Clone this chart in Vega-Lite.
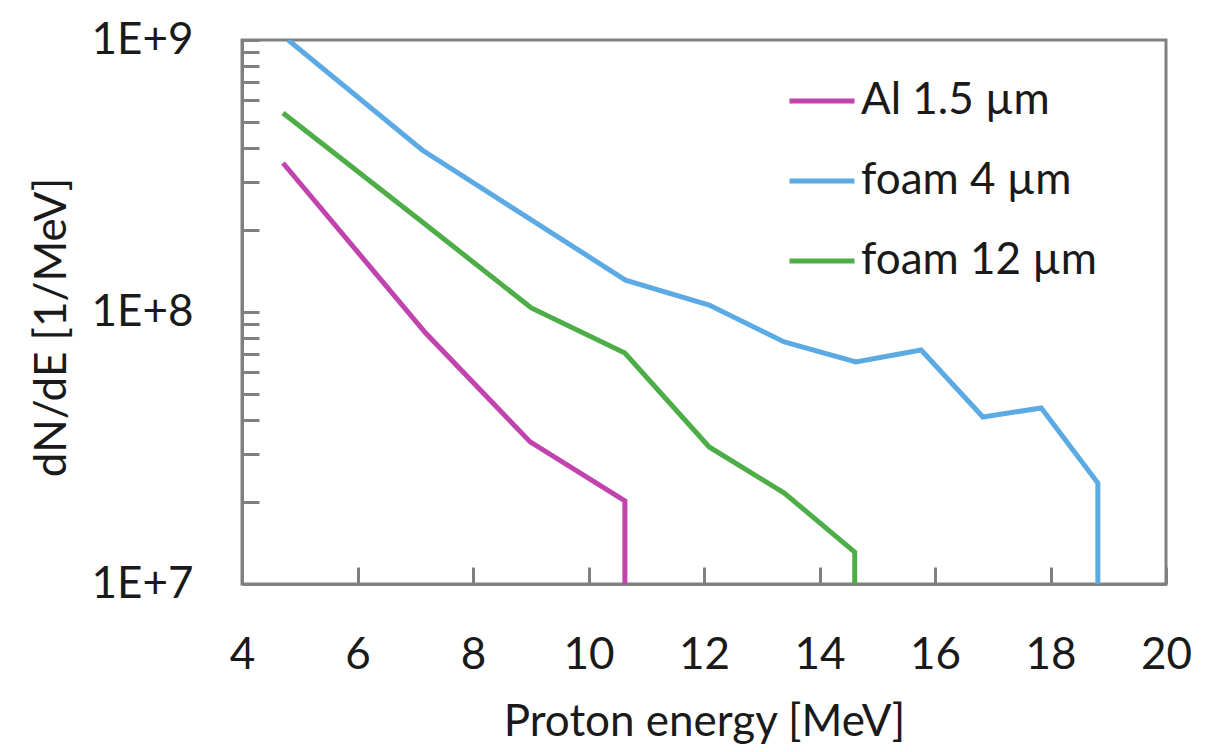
{
  "$schema": "https://vega.github.io/schema/vega-lite/v6.json",
  "width": 924,
  "height": 544,
  "autosize": {"type": "none"},
  "padding": {"left": 242, "top": 40, "right": 48, "bottom": 168},
  "background": "white",
  "config": {
    "font": "Lato",
    "view": {"stroke": "#808080", "strokeWidth": 3},
    "axis": {
      "domainColor": "#808080",
      "domainWidth": 3,
      "tickColor": "#808080",
      "tickWidth": 3,
      "grid": false,
      "labelFont": "Lato",
      "labelFontSize": 44,
      "labelColor": "#1a1a1a",
      "titleFont": "Lato",
      "titleFontSize": 44,
      "titleFontWeight": "normal",
      "titleColor": "#1a1a1a"
    },
    "legend": {
      "labelFont": "Lato",
      "labelFontSize": 44,
      "labelColor": "#1a1a1a",
      "labelLimit": 0
    }
  },
  "data": {
    "values": [
      {"series": "Al 1.5 µm", "i": 0, "energy": 4.71, "dNdE": 353000000},
      {"series": "Al 1.5 µm", "i": 1, "energy": 7.18, "dNdE": 83700000},
      {"series": "Al 1.5 µm", "i": 2, "energy": 8.99, "dNdE": 33300000},
      {"series": "Al 1.5 µm", "i": 3, "energy": 10.63, "dNdE": 20200000},
      {"series": "Al 1.5 µm", "i": 4, "energy": 10.63, "dNdE": 10000000},

      {"series": "foam 4 µm", "i": 0, "energy": 4.8, "dNdE": 1000000000},
      {"series": "foam 4 µm", "i": 1, "energy": 7.12, "dNdE": 394000000},
      {"series": "foam 4 µm", "i": 2, "energy": 10.64, "dNdE": 131000000},
      {"series": "foam 4 µm", "i": 3, "energy": 12.09, "dNdE": 106000000},
      {"series": "foam 4 µm", "i": 4, "energy": 13.39, "dNdE": 77600000},
      {"series": "foam 4 µm", "i": 5, "energy": 14.63, "dNdE": 65500000},
      {"series": "foam 4 µm", "i": 6, "energy": 15.76, "dNdE": 72500000},
      {"series": "foam 4 µm", "i": 7, "energy": 16.83, "dNdE": 41100000},
      {"series": "foam 4 µm", "i": 8, "energy": 17.84, "dNdE": 44400000},
      {"series": "foam 4 µm", "i": 9, "energy": 18.82, "dNdE": 23500000},
      {"series": "foam 4 µm", "i": 10, "energy": 18.82, "dNdE": 10000000},

      {"series": "foam 12 µm", "i": 0, "energy": 4.71, "dNdE": 539000000},
      {"series": "foam 12 µm", "i": 1, "energy": 7.15, "dNdE": 212000000},
      {"series": "foam 12 µm", "i": 2, "energy": 9.01, "dNdE": 103500000},
      {"series": "foam 12 µm", "i": 3, "energy": 10.63, "dNdE": 70700000},
      {"series": "foam 12 µm", "i": 4, "energy": 12.09, "dNdE": 31900000},
      {"series": "foam 12 µm", "i": 5, "energy": 13.39, "dNdE": 21600000},
      {"series": "foam 12 µm", "i": 6, "energy": 14.61, "dNdE": 13100000},
      {"series": "foam 12 µm", "i": 7, "energy": 14.61, "dNdE": 10000000}
    ]
  },
  "mark": {"type": "line", "strokeWidth": 5, "clip": true},
  "encoding": {
    "x": {
      "field": "energy",
      "type": "quantitative",
      "scale": {"domain": [4, 20], "nice": false, "zero": false},
      "axis": {
        "title": "Proton energy [MeV]",
        "values": [4, 6, 8, 10, 12, 14, 16, 18, 20],
        "tickSize": -17,
        "labelPadding": 66,
        "labelBaseline": "top",
        "labelFlush": false,
        "titleY": 138,
        "titleBaseline": "middle"
      }
    },
    "y": {
      "field": "dNdE",
      "type": "quantitative",
      "scale": {"type": "log", "domain": [10000000, 1000000000], "nice": false},
      "axis": {
        "title": "dN/dE [1/MeV]",
        "values": [10000000, 20000000, 30000000, 40000000, 50000000, 60000000, 70000000, 80000000, 90000000,
                   100000000, 200000000, 300000000, 400000000, 500000000, 600000000, 700000000, 800000000, 900000000,
                   1000000000],
        "labelExpr": "datum.value == 1e7 ? '1E+7' : datum.value == 1e8 ? '1E+8' : datum.value == 1e9 ? '1E+9' : ''",
        "tickSize": -17,
        "labelPadding": 66,
        "labelFlush": false,
        "labelBaseline": "middle",
        "titleX": -190,
        "titleY": 287,
        "titleAngle": -90,
        "titleAlign": "center",
        "titleBaseline": "middle",
        "encode": {
          "ticks": {
            "update": {
              "x2": {"signal": "(datum.value == 1e7 || datum.value == 1e8 || datum.value == 1e9) ? 17 : 12"}
            }
          }
        }
      }
    },
    "color": {
      "field": "series",
      "type": "nominal",
      "scale": {
        "domain": ["Al 1.5 µm", "foam 4 µm", "foam 12 µm"],
        "range": ["#C043AE", "#5BAAE4", "#4DAE48"]
      },
      "legend": {
        "title": null,
        "orient": "none",
        "legendX": 545,
        "legendY": 26,
        "symbolType": "stroke",
        "symbolSize": 4225,
        "symbolStrokeWidth": 5,
        "labelOffset": 4,
        "rowPadding": 23
      }
    },
    "order": {"field": "i", "type": "quantitative"}
  }
}
